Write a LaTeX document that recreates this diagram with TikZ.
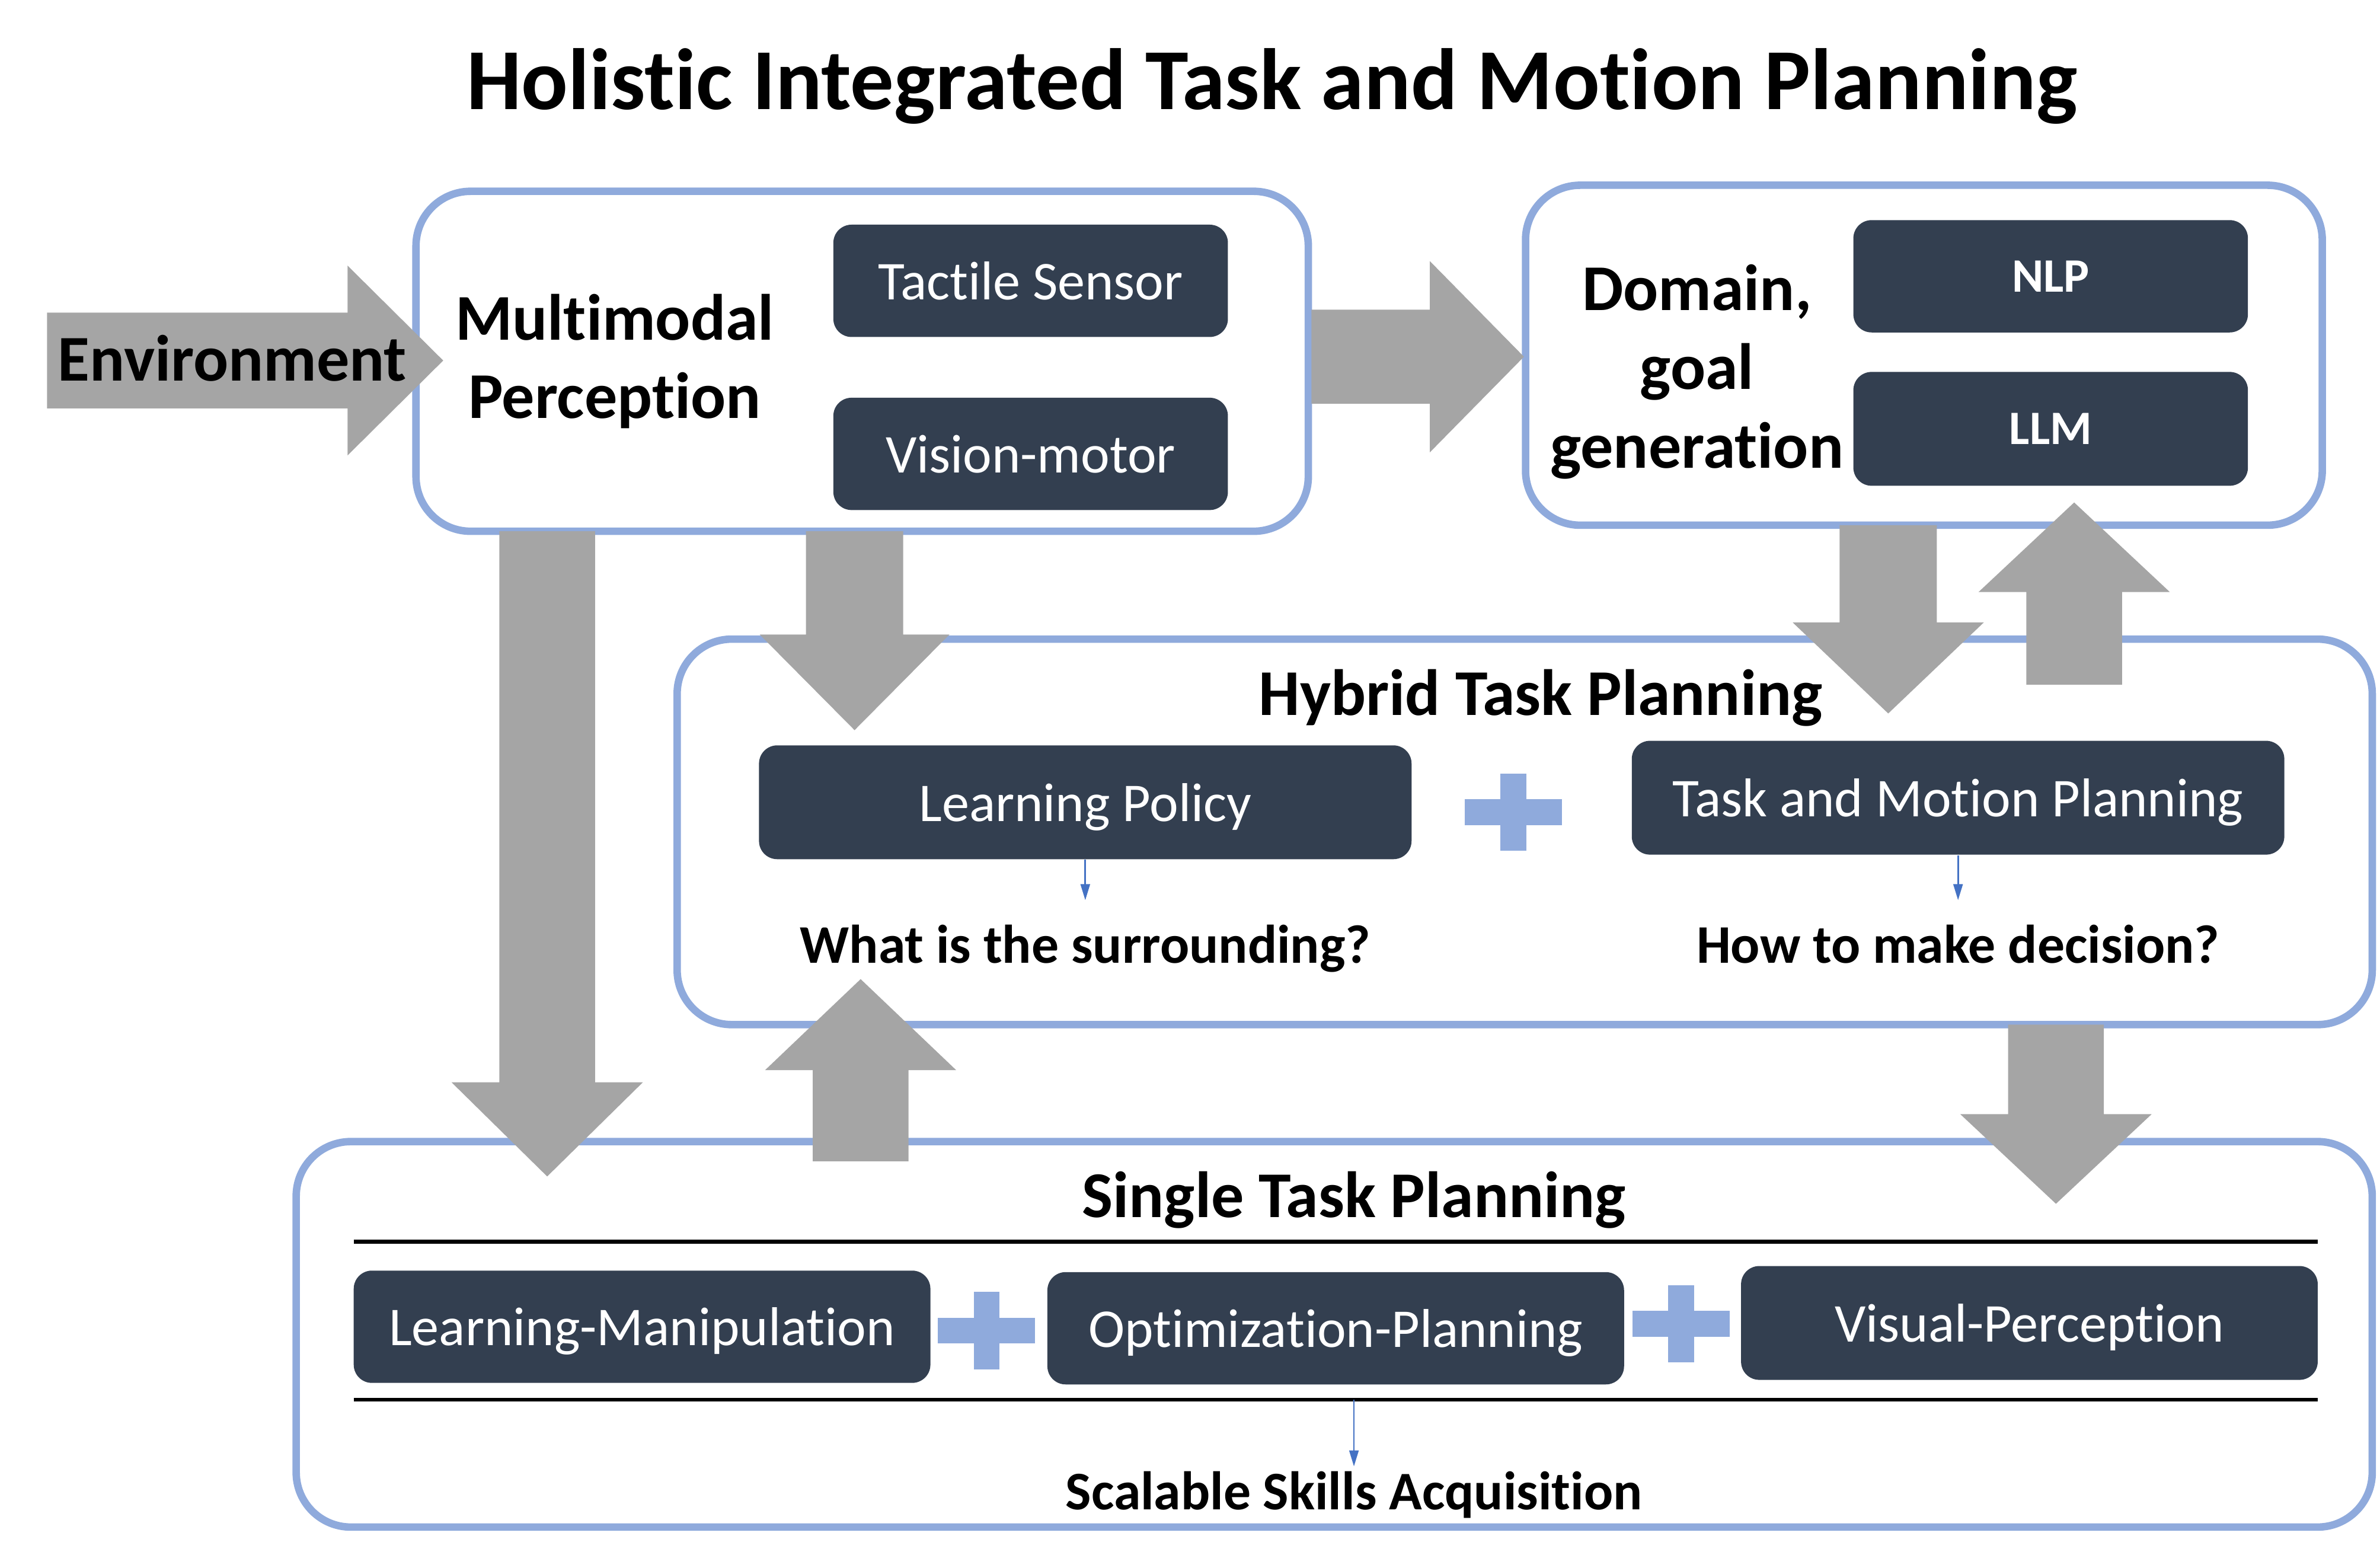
\documentclass[tikz,border=0pt]{standalone}
\usepackage{fontspec}
\setmainfont{Carlito}[Ligatures=NoCommon]
\usetikzlibrary{arrows.meta}
\definecolor{bord}{HTML}{8FAADC}
\definecolor{navy}{HTML}{333F50}
\definecolor{garr}{HTML}{A5A5A5}
\definecolor{sarr}{HTML}{4472C4}
\newcommand\blockv[6]{\fill[garr] (#1-#5,#2) -- (#1+#5,#2) -- (#1+#5,#3) -- (#1+#6,#3) -- (#1,#4) -- (#1-#6,#3) -- (#1-#5,#3) -- cycle;}
\newcommand\blockh[6]{\fill[garr] (#2,#1-#5) -- (#2,#1+#5) -- (#3,#1+#5) -- (#3,#1+#6) -- (#4,#1) -- (#3,#1-#6) -- (#3,#1-#5) -- cycle;}
\newcommand\plussign[2]{\fill[bord] (#1-32,#2-8.5) rectangle (#1+32,#2+8.5); \fill[bord] (#1-8.5,#2-25.5) rectangle (#1+8.5,#2+25.5);}
\begin{document}
\begin{tikzpicture}[x=0.02cm,y=-0.02cm,
  panel/.style={draw=bord, line width=2.8pt, rounded corners=0.72cm, fill=white, inner sep=0pt},
  darkbox/.style={fill=navy, rounded corners=0.24cm, text=white, inner sep=0pt, text depth=0pt, font=\fontsize{20.5}{24}\selectfont},
  boldbox/.style={darkbox, font=\fontsize{18}{22}\selectfont\bfseries},
  head/.style={font=\fontsize{24.5}{29.5}\selectfont\bfseries, align=center, inner sep=0pt},
  onehead/.style={font=\fontsize{24.5}{29.5}\selectfont\bfseries, inner sep=0pt, text depth=0pt},
  question/.style={font=\fontsize{20.4}{24}\selectfont\bfseries, inner sep=0pt, text depth=0pt},
  smallarrow/.style={draw=sarr, line width=0.6pt, -{Triangle[length=6pt,width=3.5pt]}},
  rule/.style={draw=black, line width=1.4pt}
]
\useasboundingbox[fill=white] (0,0) rectangle (1568,1024);

% title
\node[font=\fontsize{32.6}{38}\selectfont\bfseries, inner sep=0pt, text depth=0pt] (title) at (838,52) {Holistic Integrated Task and Motion Planning};

% panels
\node[panel, minimum width=11.76cm, minimum height=4.48cm] (mp) at (568,238) {};
\node[panel, minimum width=10.5cm, minimum height=4.48cm] (dg) at (1267.5,234) {};
\node[panel, minimum width=22.34cm, minimum height=5.08cm] (hy) at (1004.5,548) {};
\node[panel, minimum width=27.36cm, minimum height=5.08cm] (st) at (879,879) {};

% panel texts
\node[head] (mptext) at (405,238) {Multimodal\\Perception};
\node[head] (dgtext) at (1118,245) {Domain,\\goal\\generation};
\node[onehead] (hytext) at (1015,456) {Hybrid Task Planning};
\node[onehead] (sttext) at (892,787) {Single Task Planning};

% dark boxes
\node[darkbox, minimum width=5.2cm, minimum height=1.48cm] (ts) at (679,185) {Tactile Sensor};
\node[darkbox, minimum width=5.2cm, minimum height=1.48cm] (vm) at (679,299) {Vision-motor};
\node[boldbox, minimum width=5.2cm, minimum height=1.48cm] (nlp) at (1351,182) {NLP};
\node[boldbox, minimum width=5.2cm, minimum height=1.5cm] (llm) at (1351,282.5) {LLM};
\node[darkbox, minimum width=8.6cm, minimum height=1.5cm] (lp) at (715,528.5) {Learning Policy};
\node[darkbox, minimum width=8.6cm, minimum height=1.5cm] (tamp) at (1290,525.5) {Task and Motion Planning};
\node[darkbox, minimum width=7.6cm, minimum height=1.48cm] (lm) at (423,874) {Learning-Manipulation};
\node[darkbox, minimum width=7.6cm, minimum height=1.48cm] (op) at (880,875) {Optimization-Planning};
\node[darkbox, minimum width=7.6cm, minimum height=1.5cm] (vp) at (1337,871.5) {Visual-Perception};

% plus signs
\plussign{997}{535}
\plussign{650}{876.5}
\plussign{1107.5}{872}

% rules in single task panel
\draw[rule] (233,818) -- (1527,818);
\draw[rule] (233,922) -- (1527,922);

% questions
\node[question] (q1) at (715,622) {What is the surrounding?};
\node[question] (q2) at (1290,622) {How to make decision?};
\node[question] (q3) at (892,982) {Scalable Skills Acquisition};

% small arrows
\coordinate (q1top) at (715,593);
\coordinate (q2top) at (1290,593);
\coordinate (rulemid) at (892,922);
\coordinate (q3top) at (892,966);
\draw[smallarrow] (lp.south) -- (q1top);
\draw[smallarrow] (tamp.south) -- (q2top);
\draw[smallarrow] (rulemid) -- (q3top);

% gray block arrows
\blockh{237.5}{31}{229}{292}{31.5}{62.5}
\node[font=\fontsize{24.5}{29}\selectfont\bfseries, inner sep=0pt, text depth=0pt] (env) at (153,236) {Environment};
\blockh{235}{864}{942}{1004}{31}{63}
\blockv{360.5}{350}{713}{775}{31.5}{63}
\blockv{563}{350}{418}{481}{32}{62.5}
\blockv{567}{765}{705}{645}{31.5}{63}
\blockv{1354.5}{675}{734}{793}{31.5}{63}
\blockv{1244}{346}{410}{470}{32}{63}
\blockv{1366.5}{451}{390}{331}{31.5}{63}
\end{tikzpicture}
\end{document}
